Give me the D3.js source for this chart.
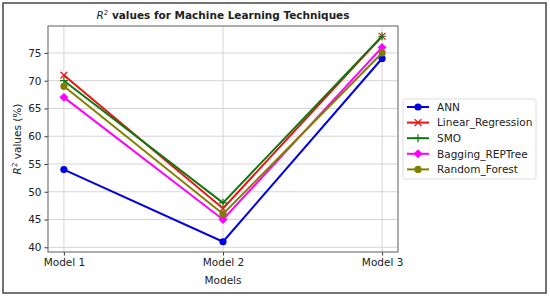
<!DOCTYPE html>
<html>
<head>
<meta charset="utf-8">
<script src="https://cdn.jsdelivr.net/npm/d3@7"></script>
<style>
  body { margin: 0; background: #fff; }
  text { font-family: "DejaVu Sans", sans-serif; fill: #222; }
</style>
</head>
<body>
<svg id="chart" width="550" height="298"></svg>
<script>
// data
var models = ["Model 1", "Model 2", "Model 3"];
var names = ["ANN", "Linear_Regression", "SMO", "Bagging_REPTree", "Random_Forest"];
var ann = [54, 41, 74];
var linReg = [71, 47, 78];
var smo = [70, 48, 78];
var bagging = [67, 45, 76];
var randForest = [69, 46, 75];
var yTicks = [40, 45, 50, 55, 60, 65, 70, 75];

var series = [
  {name: names[0], vals: ann, color: "#0000e6", marker: "circle"},
  {name: names[1], vals: linReg, color: "#ee1111", marker: "x"},
  {name: names[2], vals: smo, color: "#117711", marker: "plus"},
  {name: names[3], vals: bagging, color: "#ff00ff", marker: "diamond"},
  {name: names[4], vals: randForest, color: "#808000", marker: "circle"}
];

var svg = d3.select("#chart");
var L = 48, R = 398, T = 26, B = 252;

// outer frame
svg.append("rect").attr("x", 3).attr("y", 3).attr("width", 543).attr("height", 290)
  .attr("fill", "none").attr("stroke", "#444").attr("stroke-width", 1.5);

// matplotlib style 5% margins
var x = d3.scaleLinear().domain([-0.1, 2.1]).range([L, R]);
var y = d3.scaleLinear().domain([39.15, 79.85]).range([B, T]);

// grid
var g = svg.append("g");
g.selectAll(".gy").data(yTicks).enter().append("line")
  .attr("x1", L).attr("x2", R).attr("y1", d => y(d)).attr("y2", d => y(d))
  .attr("stroke", "#d0d0d0").attr("stroke-width", 0.9);
g.selectAll(".gx").data(models).enter().append("line")
  .attr("x1", (d, i) => x(i)).attr("x2", (d, i) => x(i)).attr("y1", T).attr("y2", B)
  .attr("stroke", "#d0d0d0").attr("stroke-width", 0.9);

// axes
var xAxis = d3.axisBottom(x).tickValues([0, 1, 2]).tickFormat(i => models[i]).tickSize(3.5).tickPadding(3);
var yAxis = d3.axisLeft(y).tickValues(yTicks).tickSize(3.5).tickPadding(3);
var gx = svg.append("g").attr("transform", "translate(0," + B + ")").call(xAxis);
var gy = svg.append("g").attr("transform", "translate(" + L + ",0)").call(yAxis);
[gx, gy].forEach(function(a) {
  a.select(".domain").remove();
  a.selectAll("line").attr("stroke", "#333");
  a.selectAll("text").style("font-size", "10.5px").attr("fill", "#222");
});

// spines
svg.append("rect").attr("x", L).attr("y", T).attr("width", R - L).attr("height", B - T)
  .attr("fill", "none").attr("stroke", "#777").attr("stroke-width", 1.2);

function drawMarker(sel, m, color, cx, cy) {
  if (m === "circle") {
    sel.append("circle").attr("cx", cx).attr("cy", cy).attr("r", 3.6).attr("fill", color);
  } else if (m === "diamond") {
    sel.append("path").attr("d", d3.symbol(d3.symbolSquare, 40)())
      .attr("transform", "translate(" + cx + "," + cy + ") rotate(45)")
      .attr("fill", color);
  } else if (m === "x") {
    var s = 3.4;
    sel.append("path").attr("d", "M" + (cx - s) + "," + (cy - s) + "L" + (cx + s) + "," + (cy + s) +
      "M" + (cx - s) + "," + (cy + s) + "L" + (cx + s) + "," + (cy - s))
      .attr("stroke", color).attr("stroke-width", 1.2);
  } else if (m === "plus") {
    var p = 4;
    sel.append("path").attr("d", "M" + (cx - p) + "," + cy + "L" + (cx + p) + "," + cy +
      "M" + cx + "," + (cy - p) + "L" + cx + "," + (cy + p))
      .attr("stroke", color).attr("stroke-width", 1.2);
  }
}

var line = d3.line().x((d, i) => x(i)).y(d => y(d));
series.forEach(function(s) {
  var sg = svg.append("g");
  sg.append("path").datum(s.vals).attr("d", line).attr("fill", "none")
    .attr("stroke", s.color).attr("stroke-width", 2);
  s.vals.forEach(function(v, i) { drawMarker(sg, s.marker, s.color, x(i), y(v)); });
});

// title and labels
var title = svg.append("text").attr("x", (L + R) / 2).attr("y", 19).attr("text-anchor", "middle")
  .style("font-size", "10.5px").style("font-weight", "bold");
title.append("tspan").style("font-style", "italic").style("font-weight", "normal").text("R");
title.append("tspan").attr("dy", -4).style("font-size", "7px").style("font-weight", "normal").text("2");
title.append("tspan").attr("dy", 4).text(" values for Machine Learning Techniques");

svg.append("text").attr("x", (L + R) / 2).attr("y", 284).attr("text-anchor", "middle")
  .style("font-size", "10.5px").text("Models");

var yl = svg.append("text").attr("transform", "translate(21," + ((T + B) / 2) + ") rotate(-90)")
  .attr("text-anchor", "middle").style("font-size", "10.5px");
yl.append("tspan").style("font-style", "italic").text("R");
yl.append("tspan").attr("dy", -4).style("font-size", "7px").text("2");
yl.append("tspan").attr("dy", 4).text(" values (%)");

// legend
var lg = svg.append("g").attr("transform", "translate(403,99)");
lg.append("rect").attr("width", 133).attr("height", 80).attr("rx", 2)
  .attr("fill", "#fff").attr("stroke", "#ddd");
series.forEach(function(s, i) {
  var yy = 8 + i * 15.6;
  lg.append("line").attr("x1", 4).attr("x2", 26).attr("y1", yy).attr("y2", yy)
    .attr("stroke", s.color).attr("stroke-width", 2);
  drawMarker(lg, s.marker, s.color, 15, yy);
  lg.append("text").attr("x", 34).attr("y", yy + 3.8).style("font-size", "10.5px").text(s.name);
});
</script>
</body>
</html>
